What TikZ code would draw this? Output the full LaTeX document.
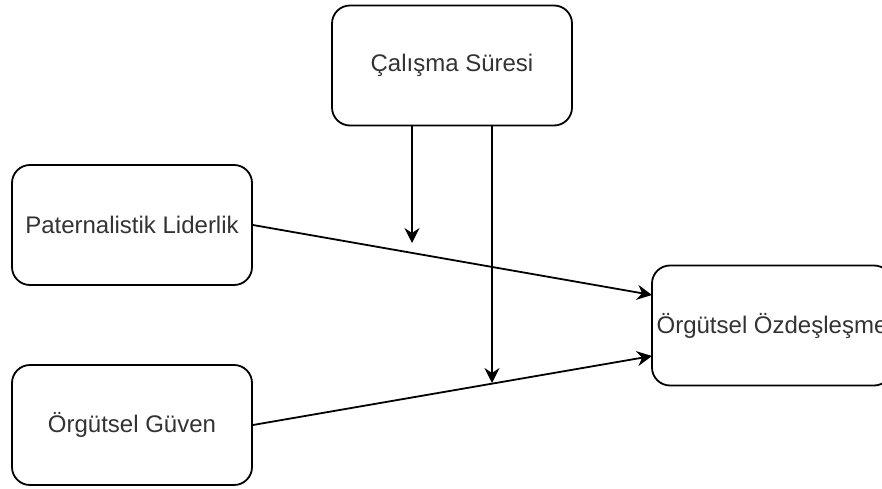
\documentclass[tikz,border=0pt]{standalone}
\usepackage{fontspec}
\setmainfont{Liberation Sans}
\usetikzlibrary{arrows.meta}

\tikzset{
  varbox/.style={draw, rounded corners=18pt, line width=1.8pt, fill=white,
    minimum width=240pt, minimum height=120pt, inner sep=0pt,
    text=black!80, font=\fontsize{24}{28}\selectfont},
  arr/.style={line width=1.8pt, -{Stealth[length=15pt,width=15pt,inset=5pt]}}
}

\begin{document}
\begin{tikzpicture}[x=1pt,y=-1pt]
  \clip (0,0) rectangle (882,489);
  \node[varbox] (cs) at (452,65.5)  {Çalışma Süresi};
  \node[varbox] (pl) at (132,225)   {Paternalistik Liderlik};
  \node[varbox] (og) at (132,425)   {Örgütsel Güven};
  \node[varbox] (oz) at (772,325.5) {Örgütsel Özdeşleşme};
  % arrow ends
  \coordinate (oz1) at (652,295);
  \coordinate (oz2) at (652,356);
  \coordinate (m1)  at (412,243);
  \coordinate (m2)  at (492,383);
  \draw[arr] (pl.east) -- (oz1);
  \draw[arr] (og.east) -- (oz2);
  \draw[arr] ([xshift=-40pt]cs.south) -- (m1);
  \draw[arr] ([xshift=40pt]cs.south)  -- (m2);
\end{tikzpicture}
\end{document}
